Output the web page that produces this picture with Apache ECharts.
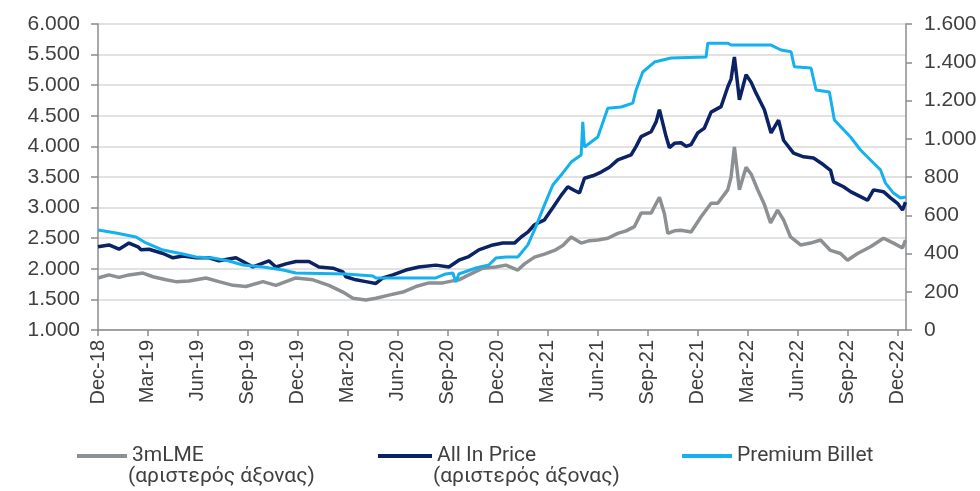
<!DOCTYPE html>
<html>
<head>
<meta charset="utf-8">
<script src="https://cdn.jsdelivr.net/npm/echarts@6/dist/echarts.min.js"></script>
<style>
  html, body { margin: 0; padding: 0; background: #fff; }
  #chart { width: 980px; height: 491px; }
</style>
</head>
<body>
<div id="chart"></div>
<script>
// x values are months counted from the Dec-18 tick
var tickLabels = ['Dec-18', 'Mar-19', 'Jun-19', 'Sep-19', 'Dec-19', 'Mar-20', 'Jun-20', 'Sep-20',
  'Dec-20', 'Mar-21', 'Jun-21', 'Sep-21', 'Dec-21', 'Mar-22', 'Jun-22', 'Sep-22', 'Dec-22'];

var lmeX = [0, 0.66, 1.26, 1.86, 2.7, 3.3, 4.08, 4.68, 5.46, 6.48, 7.26, 8.1, 8.88, 9.9, 10.68, 11.28, 11.88,
  12.9, 13.86, 14.7, 15.3, 16.08, 16.68, 17.46, 18.3, 19.08, 19.86, 20.7, 21.06, 21.66, 22.26, 23.1, 23.88, 24.48,
  25.2, 25.6, 26.2, 26.8, 27.4, 27.9, 28.4, 29.0, 29.5, 30.0, 30.6, 31.2, 31.7, 32.2, 32.6, 33.2, 33.7, 34.0,
  34.2, 34.6, 35.0, 35.6, 36.2, 36.8, 37.2, 37.8, 38.0, 38.2, 38.5, 38.9, 39.2, 39.6, 40.0, 40.37, 40.79, 41.15,
  41.57, 42.17, 42.77, 43.37, 43.97, 44.57, 44.99, 45.59, 46.37, 47.15, 47.75, 48.29, 48.47];
var lmeY = [1850, 1900, 1860, 1900, 1930, 1870, 1820, 1790, 1800, 1850, 1790, 1730, 1710, 1790, 1730, 1790, 1850,
  1820, 1730, 1620, 1520, 1490, 1520, 1570, 1620, 1710, 1770, 1770, 1790, 1820, 1900, 2010, 2030, 2060,
  1980, 2080, 2190, 2240, 2300, 2380, 2520, 2420, 2460, 2470, 2500, 2580, 2620, 2690, 2910, 2910, 3170, 2900,
  2580, 2620, 2630, 2600, 2850, 3070, 3070, 3290, 3500, 3990, 3290, 3660, 3550, 3290, 3050, 2750, 2960, 2800,
  2520, 2390, 2420, 2470, 2300, 2250, 2140, 2250, 2360, 2500, 2420, 2340, 2470];

var allInX = [0, 0.66, 1.26, 1.86, 2.4, 2.58, 3.06, 3.9, 4.5, 5.1, 5.88, 6.66, 7.26, 8.28, 8.7, 9.3, 10.26, 10.68,
  11.28, 11.88, 12.66, 13.26, 14.1, 14.7, 14.88, 15.48, 16.08, 16.68, 17.1, 17.7, 18.48, 19.26, 20.28, 21.06, 21.66,
  22.26, 22.86, 23.7, 24.3, 25.0, 25.4, 25.8, 26.2, 26.8, 27.4, 27.8, 28.2, 28.6, 28.9, 29.2, 29.7, 30.2, 30.7,
  31.2, 31.6, 32.0, 32.3, 32.6, 33.2, 33.5, 33.7, 34.1, 34.3, 34.6, 35.0, 35.3, 35.6, 36.0, 36.4, 36.8, 37.4,
  37.8, 38.0, 38.2, 38.4, 38.5, 38.9, 39.2, 39.5, 40.0, 40.4, 40.85, 41.15, 41.75, 42.35, 42.95, 43.55, 43.97,
  44.15, 44.75, 45.17, 45.77, 46.19, 46.55, 47.15, 47.57, 47.99, 48.29, 48.47];
var allInY = [2360, 2390, 2320, 2420, 2360, 2310, 2320, 2250, 2180, 2210, 2180, 2180, 2130, 2180, 2120, 2030, 2130, 2030,
  2080, 2120, 2120, 2030, 2010, 1950, 1870, 1820, 1790, 1760, 1850, 1900, 1980, 2030, 2060, 2030, 2140,
  2200, 2310, 2390, 2420, 2420, 2520, 2600, 2720, 2800, 3040, 3200, 3340, 3280, 3240, 3480, 3520, 3580, 3660,
  3780, 3820, 3860, 4000, 4160, 4240, 4400, 4600, 4160, 3980, 4050, 4060, 4000, 4030, 4220, 4300, 4560, 4650,
  4970, 5100, 5460, 5000, 4760, 5170, 5050, 4870, 4600, 4220, 4430, 4100, 3890, 3830, 3810, 3700, 3610,
  3420, 3340, 3260, 3180, 3120, 3290, 3260, 3160, 3070, 2960, 3090];

var billetX = [0, 1.08, 2.28, 2.88, 3.9, 5.1, 5.88, 6.9, 7.86, 8.7, 9.9, 11.1, 11.88, 14.88, 16.5, 16.68, 20.28,
  20.88, 21.3, 21.48, 21.66, 22.68, 23.46, 23.88, 24.48, 25.2, 25.8, 26.2, 26.8, 27.3, 27.8, 28.4, 29.0, 29.1,
  29.2, 30.0, 30.6, 31.4, 32.1, 32.3, 32.7, 33.4, 34.4, 36.5, 36.6, 37.8, 38.0, 40.4, 41.0, 41.6, 41.8, 42.8,
  43.1, 43.9, 44.2, 45.17, 45.77, 46.55, 46.97, 47.27, 47.75, 48.17, 48.5];
var billetY = [523, 507, 486, 455, 418, 397, 382, 376, 361, 340, 329, 314, 298, 293, 282, 272, 272,
  293, 298, 251, 293, 324, 340, 376, 382, 382, 445, 523, 654, 758, 810, 878, 915, 1088,
  957, 1009, 1160, 1166, 1186, 1255, 1349, 1401, 1422, 1427, 1500, 1500, 1490, 1490, 1464, 1455, 1376, 1370,
  1255, 1245, 1098, 1009, 941, 873, 837, 768, 716, 690, 695];

var legendNote = '(αριστερός άξονας)';

function pairs(xs, ys) {
  return xs.map(function (x, i) { return [x, ys[i]]; });
}
function dotted(v) {
  return String(v).replace(/\B(?=(\d{3})+(?!\d))/g, '.');
}

var chart = echarts.init(document.getElementById('chart'));
var axisColor = '#8c8c8c';
var textColor = '#404040';
var axisFont = 'Liberation Sans, Arial, sans-serif';
var legendText = { color: textColor, fontFamily: 'Roboto, sans-serif', fontSize: 21, lineHeight: 24 };

option = {
  animation: false,
  grid: { left: 98, right: 74, top: 24, bottom: 161 },
  legend: [
    { left: 72, top: 439, data: ['3mLME'], icon: 'rect', itemWidth: 50, itemHeight: 4, textStyle: legendText },
    { left: 373, top: 439, data: ['All In Price'], icon: 'rect', itemWidth: 54, itemHeight: 4, textStyle: legendText },
    { left: 677, top: 439, data: ['Premium Billet'], icon: 'rect', itemWidth: 50, itemHeight: 4, textStyle: legendText }
  ],
  graphic: [
    { type: 'text', left: 128, top: 466, style: { text: legendNote, fill: textColor, font: '21px Roboto, sans-serif' } },
    { type: 'text', left: 433, top: 466, style: { text: legendNote, fill: textColor, font: '21px Roboto, sans-serif' } }
  ],
  xAxis: {
    type: 'value',
    min: 0,
    max: 48.5,
    interval: 3,
    splitLine: { show: false },
    axisLine: { lineStyle: { color: axisColor, width: 1.5 } },
    axisTick: { length: 6, lineStyle: { color: axisColor, width: 1.5 } },
    axisLabel: {
      rotate: 90,
      margin: 10,
      fontSize: 20,
      color: textColor,
      fontFamily: axisFont,
      showMaxLabel: false,
      formatter: function (v) { return tickLabels[v / 3] || ''; }
    }
  },
  yAxis: [{
    type: 'value',
    min: 1000,
    max: 6000,
    interval: 500,
    axisLine: { show: true, lineStyle: { color: axisColor, width: 1.5 } },
    axisTick: { show: true, length: 7, lineStyle: { color: axisColor, width: 1.5 } },
    splitLine: { lineStyle: { color: '#d9d9d9', width: 1.5 } },
    axisLabel: { margin: 18, formatter: dotted, color: textColor, fontFamily: axisFont, fontSize: 21 }
  }, {
    type: 'value',
    min: 0,
    max: 1600,
    interval: 200,
    position: 'right',
    axisLine: { show: true, lineStyle: { color: axisColor, width: 1.5 } },
    axisTick: { show: true, length: 6, lineStyle: { color: axisColor, width: 1.5 } },
    splitLine: { show: false },
    axisLabel: { margin: 18, formatter: dotted, color: textColor, fontFamily: axisFont, fontSize: 21 }
  }],
  series: [{
    name: '3mLME',
    type: 'line',
    yAxisIndex: 0,
    showSymbol: false,
    data: pairs(lmeX, lmeY),
    itemStyle: { color: '#8d9093' },
    lineStyle: { color: '#8d9093', width: 3.5 }
  }, {
    name: 'All In Price',
    type: 'line',
    yAxisIndex: 0,
    showSymbol: false,
    data: pairs(allInX, allInY),
    itemStyle: { color: '#0b2265' },
    lineStyle: { color: '#0b2265', width: 3.5 }
  }, {
    name: 'Premium Billet',
    type: 'line',
    yAxisIndex: 1,
    showSymbol: false,
    data: pairs(billetX, billetY),
    itemStyle: { color: '#15b0ee' },
    lineStyle: { color: '#15b0ee', width: 3 }
  }]
};
chart.setOption(option);
</script>
</body>
</html>
